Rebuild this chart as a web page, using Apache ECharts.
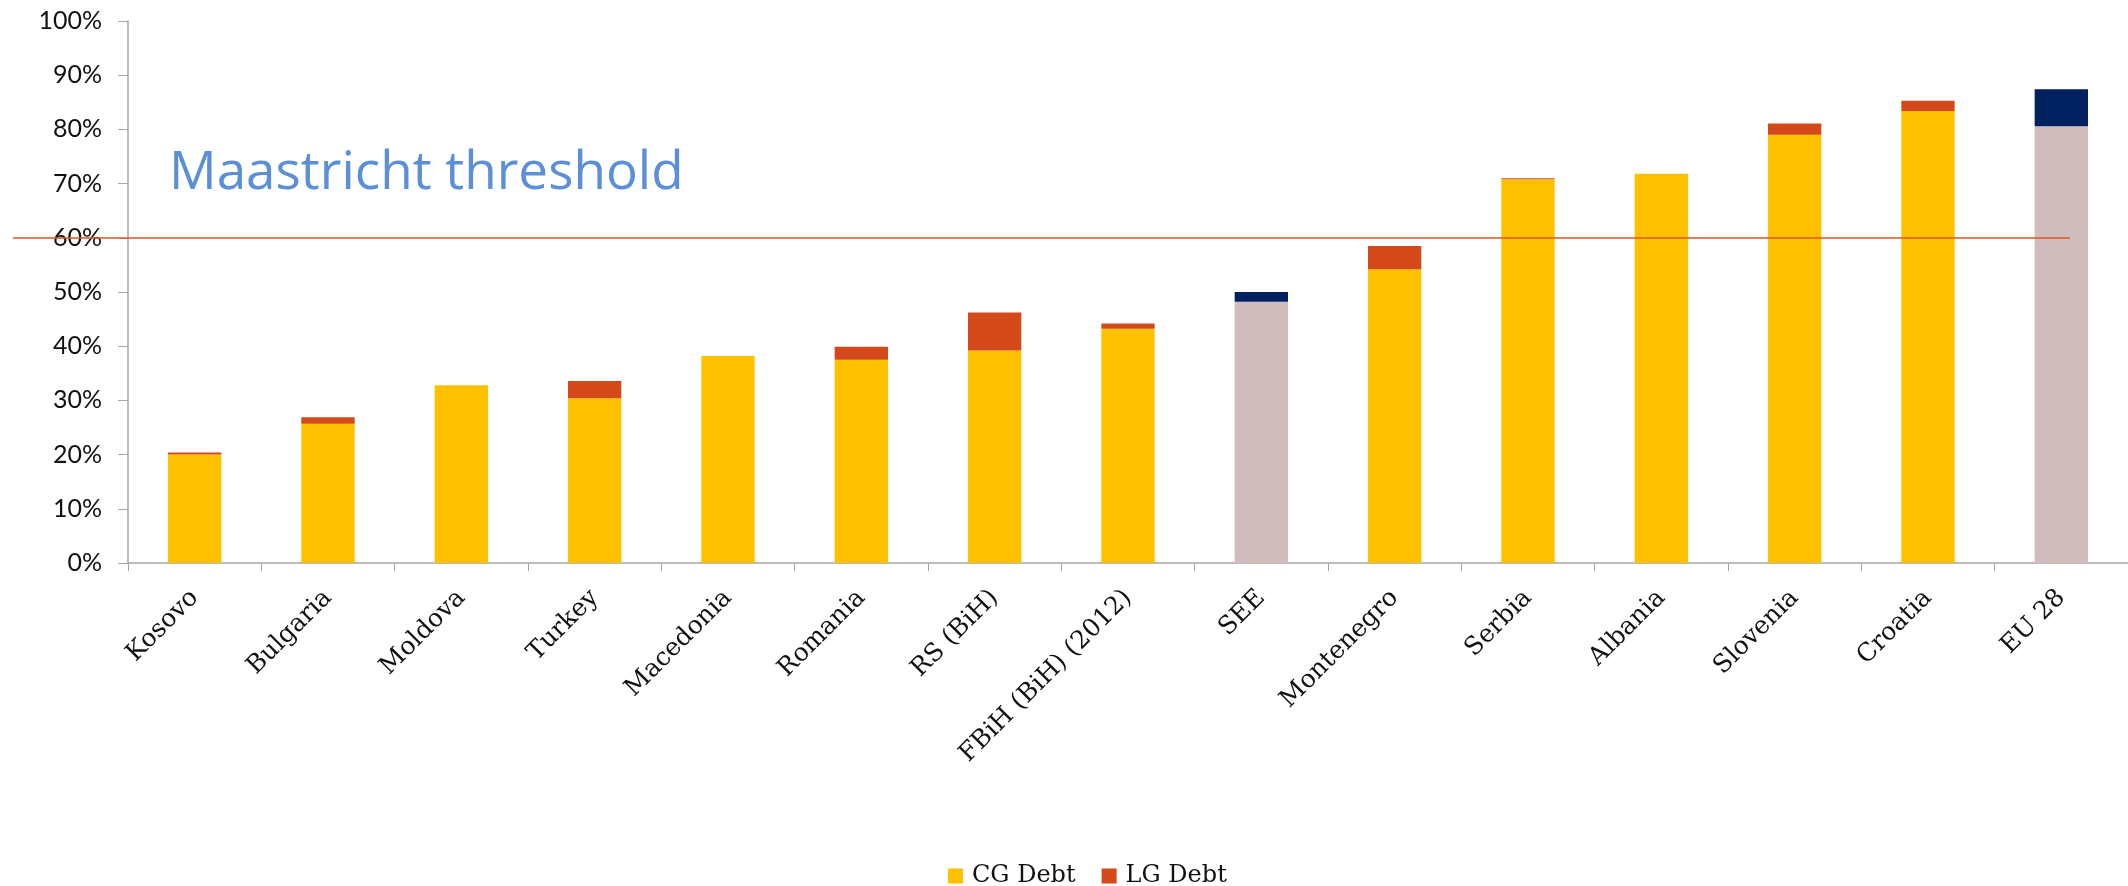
<!DOCTYPE html>
<html>
<head>
<meta charset="utf-8">
<script src="https://cdn.jsdelivr.net/npm/echarts@6/dist/echarts.min.js"></script>
<style>
  html, body { margin: 0; padding: 0; background: #fff; }
  #debtchart { width: 2128px; height: 886px; }
</style>
</head>
<body>
<div id="debtchart"></div>
<script>
// values, % of GDP
const categories = ["Kosovo", "Bulgaria", "Moldova", "Turkey", "Macedonia", "Romania", "RS (BiH)",
  "FBiH (BiH) (2012)", "SEE", "Montenegro", "Serbia", "Albania", "Slovenia", "Croatia", "EU 28"];
const cgDebt = [20.0, 25.7, 32.8, 30.4, 38.2, 37.5, 39.2, 43.2, 48.2, 54.2, 70.8, 71.8, 79.0, 83.4, 80.6];
const lgDebt = [0.4, 1.2, 0, 3.2, 0, 2.4, 7.0, 1.0, 1.8, 4.3, 0.2, 0, 2.1, 1.9, 6.8];
const aggregates = ["SEE", "EU 28"];
const threshold = 60;
const yTicks = [0, 100, 10]; // min, max, interval

const colors = {
  cg: "#FFC000",
  lg: "#D4491A",
  aggCg: "#D1BCBD",
  aggLg: "#002060",
};

const myChart = echarts.init(document.getElementById("debtchart"));

const buildData = (values, aggColor) => {
  return values.map((v, i) => {
    if (aggregates.includes(categories[i])) {
      return { value: v, itemStyle: { color: aggColor } };
    }
    return v;
  });
};

const option = {
  animation: false,
  color: [colors.cg, colors.lg],
  title: {
    text: "Maastricht threshold",
    left: 164,
    top: 142,
    textStyle: {
      fontFamily: "Open Sans",
      fontWeight: "normal",
      fontSize: 53,
      color: "#5B8FD8",
    },
  },
  grid: {
    left: 128,
    right: 0,
    top: 21,
    bottom: 323,
  },
  legend: {
    top: 859,
    left: 943,
    itemWidth: 15,
    itemHeight: 15,
    itemGap: 26,
    icon: "rect",
    textStyle: {
      fontFamily: "DejaVu Serif",
      fontSize: 24,
      color: "#111",
      padding: [0, 0, 0, 4],
    },
    data: ["CG Debt", "LG Debt"],
  },
  xAxis: {
    type: "category",
    data: categories,
    axisLine: { lineStyle: { color: "#A6A6A6", width: 1.5 } },
    axisTick: { show: true, length: 8, lineStyle: { color: "#A6A6A6" } },
    axisLabel: {
      rotate: 45,
      margin: 31,
      interval: 0,
      fontFamily: "DejaVu Serif",
      fontSize: 25,
      color: "#111",
    },
  },
  yAxis: {
    type: "value",
    min: yTicks[0],
    max: yTicks[1],
    interval: yTicks[2],
    axisLine: { show: true, lineStyle: { color: "#A6A6A6", width: 1.5 } },
    axisTick: { show: true, length: 10, lineStyle: { color: "#A6A6A6" } },
    splitLine: { show: false },
    axisLabel: {
      formatter: "{value}%",
      margin: 26,
      fontFamily: "Lato",
      fontSize: 25,
      color: "#111",
    },
  },
  series: [
    {
      name: "CG Debt",
      type: "bar",
      stack: "debt",
      barWidth: "40%",
      data: buildData(cgDebt, colors.aggCg),
      markLine: {
        silent: true,
        symbol: "none",
        label: { show: false },
        lineStyle: { color: "#E0531F", width: 1.5, type: "solid" },
        data: [[{ x: 13, yAxis: threshold }, { x: 2070, yAxis: threshold }]],
      },
    },
    {
      name: "LG Debt",
      type: "bar",
      stack: "debt",
      barWidth: "40%",
      data: buildData(lgDebt, colors.aggLg),
    },
  ],
};

option && myChart.setOption(option);
</script>
</body>
</html>
